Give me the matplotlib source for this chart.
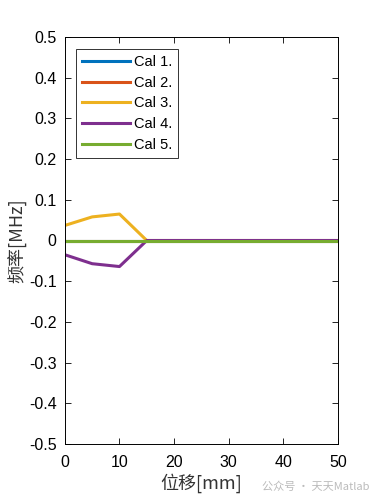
import matplotlib
matplotlib.use("Agg")
import matplotlib.pyplot as plt

x = [0, 5, 10, 15, 20, 25, 30, 35, 40, 45, 50]
cal1 = [0, 0, 0, 0, 0, 0, 0, 0, 0, 0, 0]
cal2 = [0, 0, 0, 0, 0, 0, 0, 0, 0, 0, 0]
cal3 = [0.037, 0.058, 0.065, 0, 0, 0, 0, 0, 0, 0, 0]
cal4 = [-0.035, -0.057, -0.064, 0, 0, 0, 0, 0, 0, 0, 0]
cal5 = [0, 0, 0, 0, 0, 0, 0, 0, 0, 0, 0]
labels = ["Cal 1.", "Cal 2.", "Cal 3.", "Cal 4.", "Cal 5."]
colors = ["#0072BD", "#D95319", "#EDB120", "#7E2F8E", "#77AC30"]
yticks = [-0.5, -0.4, -0.3, -0.2, -0.1, 0, 0.1, 0.2, 0.3, 0.4, 0.5]
ytick_labels = ["-0.5", "-0.4", "-0.3", "-0.2", "-0.1", "0", "0.1", "0.2", "0.3", "0.4", "0.5"]
xticks = [0, 10, 20, 30, 40, 50]

plt.rcParams['font.family'] = ['Liberation Sans', 'Noto Sans CJK SC', 'DejaVu Sans']

fig = plt.figure(figsize=(3.75, 5), dpi=100)
ax = fig.add_axes([0.173, 0.112, 0.728, 0.814])
for ys, lab, c in zip([cal1, cal2, cal3, cal4, cal5], labels, colors):
    ax.plot(x, ys, color=c, lw=2.2, label=lab)
ax.set_xlim(0, 50)
ax.set_ylim(-0.5, 0.5)
ax.set_xticks(xticks)
ax.set_yticks(yticks)
ax.set_yticklabels(ytick_labels)
ax.tick_params(direction='in', top=True, right=True, labelsize=11.5, length=4, width=0.6)
ax.tick_params(axis='x', pad=8)
ax.tick_params(axis='y', pad=6)
for s in ax.spines.values():
    s.set_linewidth(0.7)
ax.set_xlabel("位移[mm]", fontsize=13, family=['Noto Sans CJK SC', 'Liberation Sans'], color='#333333', labelpad=2)
ax.set_ylabel("频率[MHz]", fontsize=13, family=['Noto Sans CJK SC', 'Liberation Sans'], color='#333333', labelpad=1)
leg = ax.legend(loc='upper left', bbox_to_anchor=(0.04, 0.97), fontsize=10.5, frameon=True,
                fancybox=False, edgecolor='black', handlelength=3.3, borderpad=0.4,
                labelspacing=0.46, handletextpad=0.3, borderaxespad=0)
leg.get_frame().set_linewidth(0.7)
fig.text(0.70, 0.027, "公众号 · 天天Matlab", fontsize=8, color='#bbbbbb',
         family=['Noto Sans CJK SC', 'DejaVu Sans'], ha='left', va='center')
fig.savefig("out.png", dpi=100)
